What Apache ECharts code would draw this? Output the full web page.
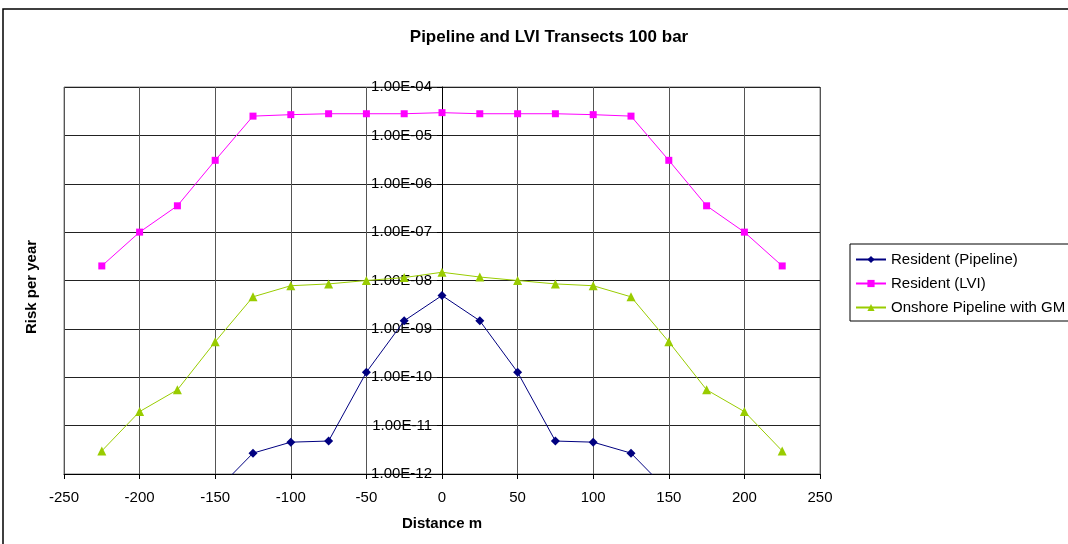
<!DOCTYPE html>
<html>
<head>
<meta charset="utf-8">
<script src="https://cdn.jsdelivr.net/npm/echarts@6/dist/echarts.min.js"></script>
<style>
  html, body { margin: 0; padding: 0; background: #fff; }
  #chart { width: 1068px; height: 544px; }
</style>
</head>
<body>
<div id="chart"></div>
<script>
// distances along the transect (m)
const distances = [-225, -200, -175, -150, -125, -100, -75, -50, -25, 0, 25, 50, 75, 100, 125, 150, 175, 200, 225]

// risk per year
const residentPipeline = [null, null, null, 4.3e-13, 2.7e-12, 4.55e-12, 4.8e-12, 1.27e-10, 1.47e-9, 4.9e-9, 1.47e-9, 1.27e-10, 4.8e-12, 4.55e-12, 2.7e-12, 4.3e-13, null, null, null]
const residentLVI = [2.0e-8, 1.0e-7, 3.5e-7, 3.05e-6, 2.5e-5, 2.68e-5, 2.8e-5, 2.8e-5, 2.8e-5, 2.95e-5, 2.8e-5, 2.8e-5, 2.8e-5, 2.68e-5, 2.5e-5, 3.05e-6, 3.5e-7, 1.0e-7, 2.0e-8]
const onshoreGM = [3.0e-12, 1.95e-11, 5.5e-11, 5.4e-10, 4.6e-9, 7.8e-9, 8.5e-9, 1.0e-8, 1.15e-8, 1.48e-8, 1.18e-8, 1.0e-8, 8.5e-9, 7.8e-9, 4.6e-9, 5.4e-10, 5.5e-11, 1.95e-11, 3.0e-12]

const seriesNames = ['Resident (Pipeline)', 'Resident (LVI)', 'Onshore Pipeline with GM']

const chart = echarts.init(document.getElementById('chart'))

function pairs(values) {
  return distances.map((d, i) => [d, values[i]])
}

// 1.00E-04 style labels
function sciLabel(v) {
  const exp = Math.round(Math.log10(v))
  const mant = (v / Math.pow(10, exp)).toFixed(2)
  const sign = exp < 0 ? '-' : '+'
  return mant + 'E' + sign + String(Math.abs(exp)).padStart(2, '0')
}

const font = 'Liberation Sans, Arial, sans-serif'

// plot box, the y axis crosses at distance 0
const gridLeft = 64
const gridWidth = 756
const xMin = -250
const xMax = 250

chart.setOption({
  animation: false,
  textStyle: { fontFamily: font },
  title: {
    text: 'Pipeline and LVI Transects 100 bar',
    left: 544,
    top: 24,
    textAlign: 'center',
    textStyle: { fontSize: 17, fontWeight: 'bold', color: '#000', fontFamily: font },
  },
  graphic: [
    {
      type: 'rect',
      shape: { x: 3, y: 9, width: 1100, height: 600 },
      style: { fill: 'none', stroke: '#000', lineWidth: 1.5 },
      silent: true,
    },
    {
      type: 'text',
      x: 32,
      y: 287,
      rotation: Math.PI / 2,
      style: {
        text: 'Risk per year',
        font: 'bold 15px ' + font,
        fill: '#000',
        textAlign: 'center',
        textVerticalAlign: 'middle',
      },
    },
  ],
  legend: {
    left: 850,
    top: 244,
    orient: 'vertical',
    data: seriesNames,
    itemWidth: 30,
    itemHeight: 9,
    itemGap: 9,
    padding: [8, 10, 6, 5],
    borderColor: '#000',
    borderWidth: 1,
    textStyle: { fontSize: 15, color: '#000', fontFamily: font },
  },
  grid: {
    left: gridLeft,
    width: gridWidth,
    top: 87,
    bottom: 70,
    outerBoundsMode: 'none',
    containLabel: false,
    show: true,
    borderColor: '#808080',
    borderWidth: 1,
  },
  xAxis: {
    type: 'value',
    min: xMin,
    max: xMax,
    interval: 50,
    name: 'Distance m',
    nameLocation: 'middle',
    nameGap: 42,
    nameTextStyle: { fontSize: 15, fontWeight: 'bold', color: '#000' },
    axisLine: { onZero: false, lineStyle: { color: '#000', width: 1 } },
    axisTick: { show: true, length: 5, lineStyle: { color: '#000' } },
    axisLabel: { fontSize: 15, color: '#000', margin: 16 },
    splitLine: { show: true, lineStyle: { color: '#555', width: 1 } },
  },
  yAxis: {
    type: 'log',
    logBase: 10,
    min: 1e-12,
    max: 1e-4,
    interval: 1,
    position: 'left',
    // shift the axis from the left edge to distance 0
    offset: -gridWidth * (0 - xMin) / (xMax - xMin),
    axisLine: { show: true, onZero: false, lineStyle: { color: '#000', width: 1 } },
    axisTick: { show: true, length: 5, lineStyle: { color: '#000' } },
    axisLabel: { fontSize: 15, color: '#000', margin: 10, formatter: sciLabel },
    splitLine: { show: true, lineStyle: { color: '#222', width: 1 } },
    minorTick: { show: false },
  },
  series: [
    {
      name: seriesNames[0],
      type: 'line',
      data: pairs(residentPipeline),
      symbol: 'diamond',
      symbolSize: 9,
      connectNulls: false,
      lineStyle: { color: '#000080', width: 1 },
      itemStyle: { color: '#000080' },
    },
    {
      name: seriesNames[1],
      type: 'line',
      data: pairs(residentLVI),
      symbol: 'rect',
      symbolSize: 7,
      lineStyle: { color: '#ff00ff', width: 1 },
      itemStyle: { color: '#ff00ff' },
    },
    {
      name: seriesNames[2],
      type: 'line',
      data: pairs(onshoreGM),
      symbol: 'triangle',
      symbolSize: 9,
      lineStyle: { color: '#99cc00', width: 1 },
      itemStyle: { color: '#99cc00' },
    },
  ],
})
</script>
</body>
</html>
